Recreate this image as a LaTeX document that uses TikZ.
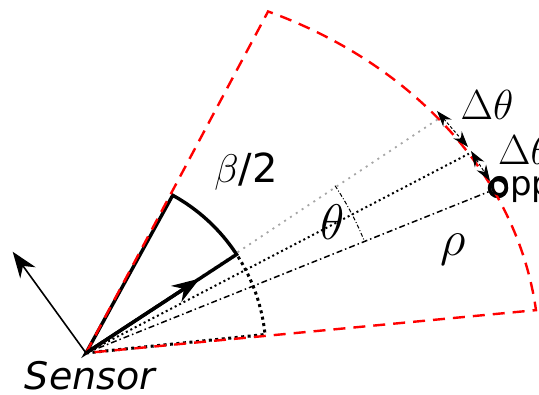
\RequirePackage{fix-cm}
\documentclass[tikz,border=0pt]{standalone}
\usepackage{amsmath}
\usepackage{fontspec}
\setsansfont{DejaVu Sans}
\usetikzlibrary{positioning, arrows.meta}

\begin{document}
\begin{tikzpicture}[
  x=1pt, y=1pt,
  fov/.style={draw=red, line width=2.4pt, dash pattern=on 12pt off 8pt},
  halfbeam/.style={line width=3.4pt, line join=miter},
  halfdots/.style={line width=3pt, dash pattern=on 3pt off 3.5pt},
  axisarr/.style={-{Stealth[length=26pt,width=19pt]}, line width=1.6pt},
  heading/.style={-{Stealth[length=28pt,width=19pt]}, line width=3.4pt},
  bearing/.style={line width=1.5pt, dash pattern=on 6pt off 3pt on 1.5pt off 3pt},
  midray/.style={line width=2pt, dash pattern=on 2pt off 3pt},
  greyray/.style={draw=gray!70, line width=1.8pt, dash pattern=on 2pt off 5pt},
  thetaarc/.style={line width=1pt, dash pattern=on 4pt off 2pt on 1pt off 2pt},
  delta/.style={{Stealth[length=16pt,width=11pt]}-{Stealth[length=16pt,width=11pt]},
    line width=1pt, dash pattern=on 3pt off 2pt},
  oppmark/.style={circle, draw, line width=3.5pt, minimum size=17pt, inner sep=0pt},
  mathlbl/.style={inner sep=0pt, font=\fontsize{50}{54}\selectfont},
  dlbl/.style={inner sep=0pt, font=\fontsize{42}{46}\selectfont},
  sflbl/.style={inner sep=0pt, font=\fontsize{38}{42}\selectfont\sffamily}
]
\useasboundingbox (-86,-42) rectangle (453,353);

\coordinate (S) at (0,0);
\coordinate (yax) at (125.9:125);
\coordinate (hdg) at (33.2:136);
\coordinate (hdgend) at (38.9:453pt and 373pt);
\coordinate (midend) at (32.3:453pt and 373pt);
\coordinate (d1a) at (351,242);
\coordinate (d1b) at (382,206);
\coordinate (d2a) at (385,202);
\coordinate (d2b) at (404,172);
\node[oppmark] (opp) at (412,165) {};

% rays
\draw[greyray] (S) -- (hdgend);
\draw[midray] (S) -- (midend);
\draw[bearing] (S) -- (opp);
\draw[thetaarc] (33.9:300pt) arc[start angle=33.9, end angle=21.8, radius=300pt];

% beam halves
\draw[halfdots] (S) -- (5.9:180pt) arc[start angle=5.9, end angle=33.2, radius=180pt];
\draw[halfbeam] (S) -- (61.2:180pt) arc[start angle=61.2, end angle=33.2, radius=180pt] -- cycle;

% field of view
\draw[fov] (S) -- (66.3:453pt and 373pt)
  arc[start angle=66.3, end angle=6.6, x radius=453pt, y radius=373pt] -- cycle;

\draw[heading] (S) -- (hdg);
\draw[axisarr] (S) -- (yax);
\draw[delta] (d1a) -- (d1b);
\draw[delta] (d2a) -- (d2b);

\node[sflbl, font=\fontsize{38}{42}\selectfont\sffamily\itshape] (sensor) at (4,-23) {Sensor};
\node[sflbl, font=\fontsize{40}{44}\selectfont\sffamily] (beta) at (160,181) {$\beta$/2};
\node[mathlbl] (theta) at (247,131) {$\theta$};
\node[mathlbl] (rho) at (367,103) {$\rho$};
\node[dlbl] (dth1) at (401,248) {$\Delta\theta$};
\node[dlbl, anchor=west] (dth2) at (412,203) {$\Delta\theta$};
\node[sflbl, font=\fontsize{34}{38}\selectfont\sffamily, anchor=base west] (opptxt) at (403,157) {opp};

\end{tikzpicture}
\end{document}
